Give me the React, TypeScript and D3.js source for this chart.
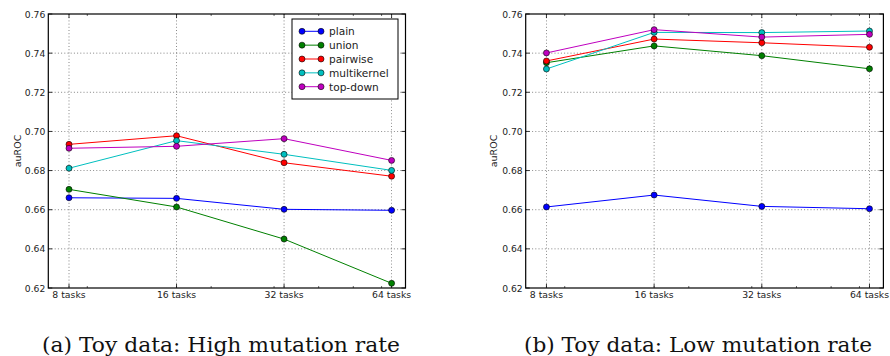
import React from 'react';
import * as d3 from 'd3';

// --- data ---
const tasks = [8, 16, 32, 64];
const taskLabels = ['8 tasks', '16 tasks', '32 tasks', '64 tasks'];
const minorTicks = [9, 20, 30, 40, 50, 60];
const yTicks = [0.62, 0.64, 0.66, 0.68, 0.7, 0.72, 0.74, 0.76];

const seriesNames = ['plain', 'union', 'pairwise', 'multikernel', 'top-down'];
const seriesColors = ['#0000ff', '#008000', '#ff0000', '#00bfbf', '#bf00bf'];

// (a) high mutation rate
const highPlain = [0.6661, 0.6658, 0.6602, 0.6597];
const highUnion = [0.6704, 0.6614, 0.645, 0.6224];
const highPairwise = [0.6934, 0.6978, 0.684, 0.6771];
const highMultikernel = [0.6812, 0.6953, 0.6883, 0.6801];
const highTopDown = [0.6914, 0.6924, 0.6963, 0.6852];

// (b) low mutation rate
const lowPlain = [0.6614, 0.6675, 0.6617, 0.6605];
const lowUnion = [0.7351, 0.7437, 0.7387, 0.732];
const lowPairwise = [0.736, 0.7472, 0.7453, 0.743];
const lowMultikernel = [0.7319, 0.7506, 0.7505, 0.7513];
const lowTopDown = [0.7401, 0.752, 0.7482, 0.7496];

const highSeries = [highPlain, highUnion, highPairwise, highMultikernel, highTopDown];
const lowSeries = [lowPlain, lowUnion, lowPairwise, lowMultikernel, lowTopDown];

const W = 890;
const H = 356;
const top = 14;
const bottom = 288;
const sans = 'DejaVu Sans, sans-serif';

interface PanelProps {
	left: number;
	right: number;
	series: number[][];
	labelX: number;
	caption: string;
	captionX: number;
	captionW: number;
	legend?: boolean;
}

const Panel: React.FC<PanelProps> = ({ left, right, series, labelX, caption, captionX, captionW, legend }) => {
	const x = d3.scaleLog().base(2).domain([7, 70]).range([left, right]);
	const y = d3.scaleLinear().domain([0.62, 0.76]).range([bottom, top]);
	const line = d3
		.line<number>()
		.x((_, i) => x(tasks[i]))
		.y((d) => y(d));

	const grid = { stroke: '#000', strokeWidth: 0.6, strokeDasharray: '1,2.2', opacity: 0.8 };

	return (
		<g>
			{/* grid */}
			{tasks.map((t) => (
				<line key={'gx' + t} x1={x(t)} x2={x(t)} y1={top} y2={bottom} {...grid} />
			))}
			{yTicks.slice(1, -1).map((v) => (
				<line key={'gy' + v} x1={left} x2={right} y1={y(v)} y2={y(v)} {...grid} />
			))}

			{/* ticks, inward */}
			{yTicks.map((v) => (
				<g key={'ty' + v}>
					<line x1={left} x2={left + 4} y1={y(v)} y2={y(v)} stroke="#000" strokeWidth={0.8} />
					<line x1={right} x2={right - 4} y1={y(v)} y2={y(v)} stroke="#000" strokeWidth={0.8} />
					<text
						x={left - 3}
						y={y(v)}
						textAnchor="end"
						dominantBaseline="central"
						fontFamily={sans}
						fontSize={9.2}
						fill="#222">
						{v.toFixed(2)}
					</text>
				</g>
			))}
			{tasks.map((t, i) => (
				<g key={'tx' + t}>
					<line x1={x(t)} x2={x(t)} y1={bottom} y2={bottom - 4} stroke="#000" strokeWidth={0.8} />
					<line x1={x(t)} x2={x(t)} y1={top} y2={top + 4} stroke="#000" strokeWidth={0.8} />
					<text
						x={x(t)}
						y={bottom + 10}
						textAnchor="middle"
						fontFamily={sans}
						fontSize={9.3}
						fill="#222">
						{taskLabels[i]}
					</text>
				</g>
			))}
			{minorTicks.map((t) => (
				<g key={'mx' + t}>
					<line x1={x(t)} x2={x(t)} y1={bottom} y2={bottom - 2} stroke="#000" strokeWidth={0.6} />
					<line x1={x(t)} x2={x(t)} y1={top} y2={top + 2} stroke="#000" strokeWidth={0.6} />
				</g>
			))}

			{/* series */}
			{series.map((vals, s) => (
				<g key={'s' + s}>
					<path d={line(vals) ?? ''} fill="none" stroke={seriesColors[s]} strokeWidth={1} />
					{vals.map((v, i) => (
						<circle
							key={i}
							cx={x(tasks[i])}
							cy={y(v)}
							r={3}
							fill={seriesColors[s]}
							stroke="#000"
							strokeWidth={0.6}
						/>
					))}
				</g>
			))}

			{/* frame */}
			<rect x={left} y={top} width={right - left} height={bottom - top} fill="none" stroke="#000" strokeWidth={1.2} />

			<text
				transform={`translate(${labelX},${(top + bottom) / 2}) rotate(-90)`}
				textAnchor="middle"
				dominantBaseline="central"
				fontFamily={sans}
				fontSize={9.5}
				fill="#222">
				auROC
			</text>

			{legend && (
				<g>
					<rect x={292} y={19} width={106} height={80} fill="#fff" stroke="#000" strokeWidth={1} />
					{seriesNames.map((name, s) => {
						const ly = 31.3 + s * 13.85;
						return (
							<g key={name}>
								<line x1={302} x2={321} y1={ly} y2={ly} stroke={seriesColors[s]} strokeWidth={1} />
								<circle cx={302} cy={ly} r={3} fill={seriesColors[s]} stroke="#000" strokeWidth={0.6} />
								<circle cx={321} cy={ly} r={3} fill={seriesColors[s]} stroke="#000" strokeWidth={0.6} />
								<text x={329} y={ly} dominantBaseline="central" fontFamily={sans} fontSize={10.6} fill="#222">
									{name}
								</text>
							</g>
						);
					})}
				</g>
			)}

			<text
				x={captionX}
				y={351.5}
				textAnchor="middle"
				fontFamily="DejaVu Serif, serif"
				fontSize={20}
				textLength={captionW}
				lengthAdjust="spacingAndGlyphs"
				fill="#111">
				{caption}
			</text>
		</g>
	);
};

const App: React.FC = () => (
	<div style={{ position: 'absolute', left: 0, top: 0 }}>
		<svg width={W} height={H} style={{ display: 'block', background: '#fff' }}>
			<Panel
				left={48.3}
				right={405.5}
				series={highSeries}
				labelX={17.3}
				caption="(a) Toy data: High mutation rate"
				captionX={221}
				captionW={358}
				legend
			/>
			<Panel
				left={525.7}
				right={883.4}
				series={lowSeries}
				labelX={493.5}
				caption="(b) Toy data: Low mutation rate"
				captionX={698}
				captionW={348}
			/>
		</svg>
	</div>
);

export default App;
